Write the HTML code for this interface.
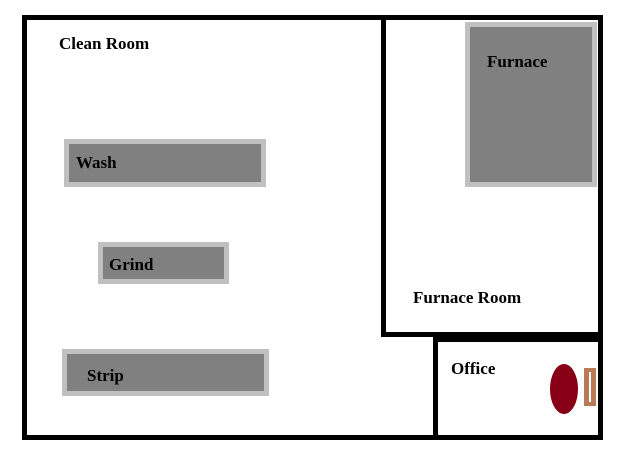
<!DOCTYPE html>
<html><head><style>
body{margin:0;width:629px;height:464px;background:#fff;position:relative;overflow:hidden;font-family:"Liberation Serif",serif;font-weight:bold;font-size:17px;color:#000}
div{position:absolute;box-sizing:border-box}
.t{position:absolute;white-space:nowrap}
.m{background:#808080;border:5px solid #c0c0c0}
</style></head><body>
<div style="left:22px;top:15px;width:581px;height:425px;border:5px solid #000"></div>
<div style="left:381px;top:15px;width:222px;height:322px;border:5px solid #000"></div>
<div style="left:433px;top:337px;width:170px;height:103px;border:5px solid #000"></div>
<div class="m" style="left:64px;top:139px;width:202px;height:48px"></div>
<div class="m" style="left:98px;top:242px;width:131px;height:42px"></div>
<div class="m" style="left:62px;top:349px;width:207px;height:47px"></div>
<div class="m" style="left:465px;top:22px;width:132px;height:165px"></div>
<span class="t" style="left:59px;top:34px">Clean Room</span>
<span class="t" style="left:76px;top:153px">Wash</span>
<span class="t" style="left:109px;top:255px">Grind</span>
<span class="t" style="left:87px;top:366px">Strip</span>
<span class="t" style="left:487px;top:52px">Furnace</span>
<span class="t" style="left:413px;top:288px">Furnace Room</span>
<span class="t" style="left:451px;top:359px">Office</span>
<div style="left:550px;top:364px;width:28px;height:50px;border-radius:50%;background:#880015"></div>
<div style="left:584px;top:368px;width:12px;height:38px;background:#b97a57"></div>
<div style="left:589px;top:372px;width:2px;height:30px;background:#fff"></div>
</body></html>
